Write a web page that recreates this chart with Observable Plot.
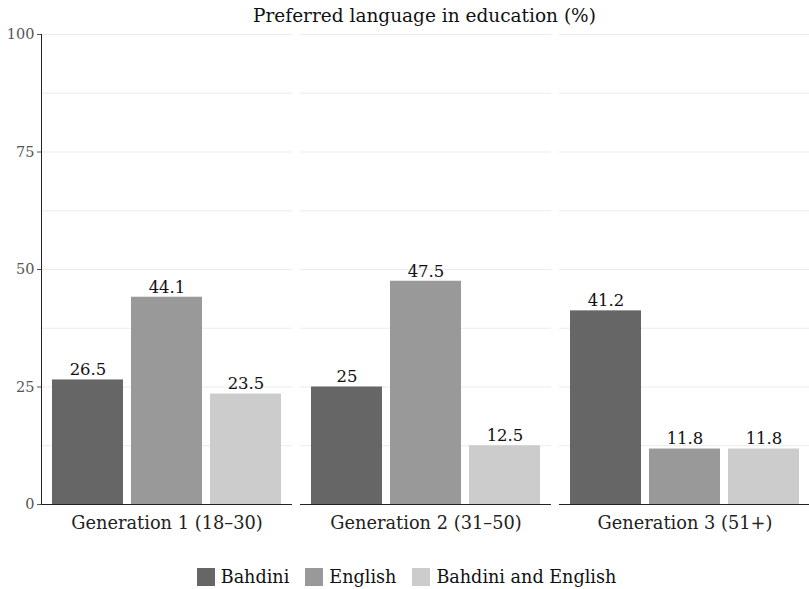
<!DOCTYPE html>
<html><head><meta charset="utf-8">
<script src="https://cdn.jsdelivr.net/npm/d3@7"></script>
<script src="https://cdn.jsdelivr.net/npm/@observablehq/plot@0.6"></script>
<style>
body{margin:0;background:#fff;font-family:"DejaVu Serif",serif;}
#wrap{position:relative;width:809px;height:589px;overflow:hidden;}
#title{position:absolute;left:40px;width:769px;top:5px;text-align:center;font-size:18.5px;color:#111;font-family:"DejaVu Serif",serif;}
#legend{position:absolute;left:10px;width:809px;top:560px;}
.lg-swatches{justify-content:center;margin:0 !important;}
.lg-swatch{margin-right:16px !important;color:#111;}
.lg-swatch > svg{margin-right:6px !important;}
</style></head><body>
<div id="wrap"><div id="chart"></div><div id="title"></div><div id="legend"></div></div>
<script>
const generations = ["Generation 1 (18–30)", "Generation 2 (31–50)", "Generation 3 (51+)"];
const languages = ["Bahdini", "English", "Bahdini and English"];
const bahdini = [26.5, 25, 41.2];
const english = [44.1, 47.5, 11.8];
const bahdiniEnglish = [23.5, 12.5, 11.8];
const yTicks = [0, 25, 50, 75, 100];
const gridTicks = [12.5, 25, 37.5, 50, 62.5, 75, 87.5, 100];
const colors = ["#666666", "#999999", "#cccccc"];
const titleText = "Preferred language in education (%)";

const series = [bahdini, english, bahdiniEnglish];
const data = generations.flatMap((g, i) => languages.map((l, j) => ({g, lang: l, v: series[j][i]})));

const font = "DejaVu Serif";
const plot = Plot.plot({
  width: 809, height: 540,
  marginLeft: 41, marginRight: -2, marginTop: 34, marginBottom: 36,
  style: {fontFamily: font, fontSize: "14px", background: "white", overflow: "visible"},
  fx: {domain: generations, paddingInner: 8 / 259.5, paddingOuter: 0, label: null},
  x: {domain: languages, paddingInner: 0.101, paddingOuter: 0.139, axis: null},
  y: {domain: [0, 100], label: null},
  color: {domain: languages, range: colors},
  marks: [
    Plot.gridY(gridTicks, {stroke: "#ebebeb", strokeOpacity: 1}),
    Plot.barY(data, {fx: "g", x: "lang", y: "v", fill: "lang"}),
    Plot.text(data, {fx: "g", x: "lang", y: "v", text: d => String(d.v), dy: -10, fontSize: 16.5, fill: "#111"}),
    Plot.ruleY([0], {stroke: "#222"}),
    Plot.axisY(yTicks, {tickSize: 4, tickPadding: 3, fontSize: 14.5, color: "#555", label: null}),
    Plot.axisFx({anchor: "bottom", tickSize: 0, tickPadding: 12, fontSize: 17.8, fill: "#222", label: null}),
    Plot.frame({anchor: "left", facet: "super", stroke: "#222"})
  ]
});
document.getElementById("chart").append(plot);
document.getElementById("title").textContent = titleText;
const leg = Plot.legend({color: {domain: languages, range: colors}, legend: "swatches", swatchSize: 18, className: "lg", style: {fontFamily: font, fontSize: "17.6px"}});
document.getElementById("legend").append(leg);
</script>
</body></html>
